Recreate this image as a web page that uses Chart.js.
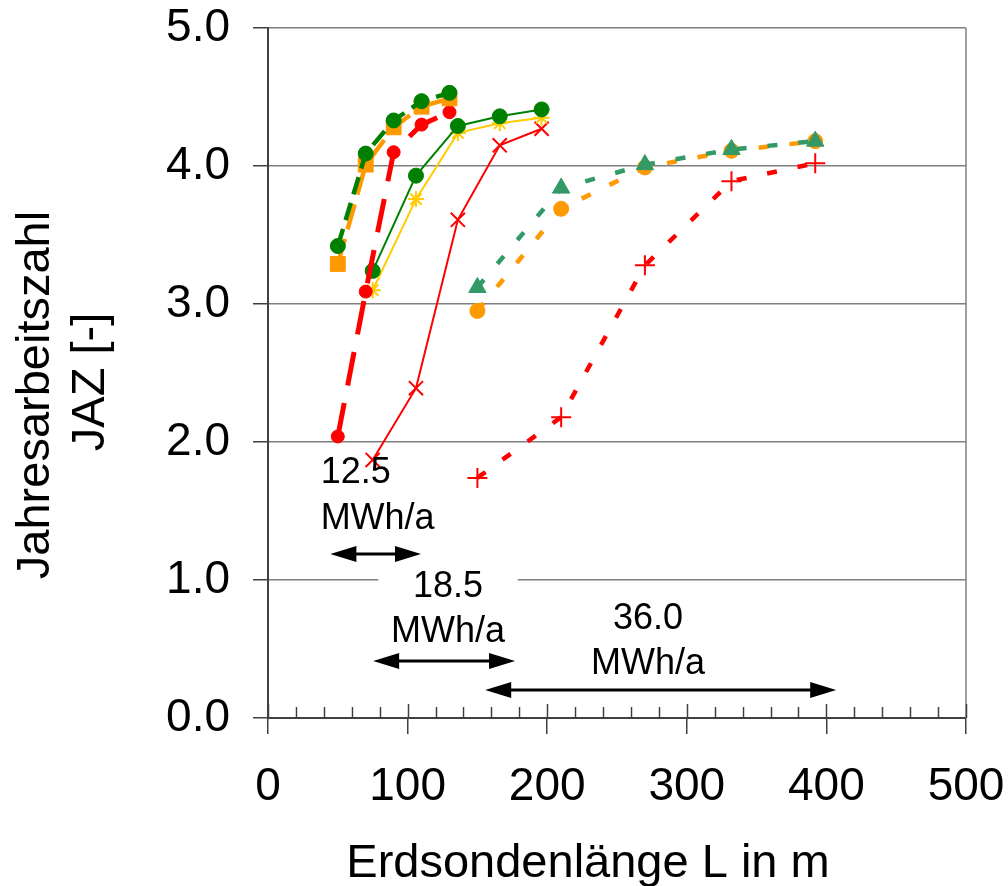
<!DOCTYPE html>
<html lang="de">
<head>
    <meta charset="UTF-8">
    <title>Jahresarbeitszahl | Erdsondenlänge</title>
    <script src="https://cdn.jsdelivr.net/npm/chart.js@4.4.1/dist/chart.umd.min.js"></script>
    <style>
        html, body { margin: 0; padding: 0; background: #fff; }
        #grafico { display: block; }
    </style>
</head>
<body>
    <canvas id="grafico" width="1008" height="886"></canvas>

<script>
    // Erdsondenlänge L in m (je Heizenergiebedarf)
    const laenge125 = [50, 70, 90, 110, 130];
    const laenge185 = [75, 106, 136, 166, 196];
    const laenge360 = [150, 210, 270, 332, 392];

    // Jahresarbeitszahl JAZ [-]
    const jazGruenGestrichelt = [3.42, 4.09, 4.33, 4.47, 4.53];
    const jazOrangeQuadrat = [3.29, 4.01, 4.28, 4.43, 4.49];
    const jazRotGestrichelt = [2.04, 3.09, 4.10, 4.30, 4.39];
    const jazGruen = [3.24, 3.93, 4.29, 4.36, 4.41];
    const jazGelb = [3.10, 3.76, 4.24, 4.31, 4.35];
    const jazRot = [1.87, 2.39, 3.61, 4.15, 4.27];
    const jazGruenDreieck = [3.12, 3.84, 4.01, 4.12, 4.18];
    const jazOrangeKreis = [2.95, 3.69, 3.99, 4.11, 4.18];
    const jazRotPlus = [1.74, 2.18, 3.28, 3.89, 4.02];

    // Achsen
    const xMax = 500;
    const yMax = 5;
    const xLabelSchritt = 100;
    const xTickSchritt = 20;

    // Beschriftungen (Energiebedarf) und Pfeile, in Achsenwerten
    const energieTexte = ['12.5', '18.5', '36.0'];
    const pfeilVon = [44.7, 75.3, 155.6];
    const pfeilBis = [109.6, 177, 407];
    const pfeilJaz = [1.19, 0.41, 0.20];

    const schrift = '"Liberation Sans", Arial, sans-serif';

    function punkte(xs, ys) {
        return xs.map(function (x, i) { return { x: x, y: ys[i] }; });
    }

    function pfeil(ctx, x1, x2, yy) {
        const k = 26, h = 8;
        ctx.lineWidth = 3;
        ctx.beginPath();
        ctx.moveTo(x1 + k - 2, yy);
        ctx.lineTo(x2 - k + 2, yy);
        ctx.stroke();
        ctx.beginPath();
        ctx.moveTo(x1, yy); ctx.lineTo(x1 + k, yy - h); ctx.lineTo(x1 + k, yy + h);
        ctx.closePath(); ctx.fill();
        ctx.beginPath();
        ctx.moveTo(x2, yy); ctx.lineTo(x2 - k, yy - h); ctx.lineTo(x2 - k, yy + h);
        ctx.closePath(); ctx.fill();
    }

    const extras = {
        id: 'extras',
        beforeDatasetsDraw(chart) {
            const ctx = chart.ctx;
            const a = chart.chartArea;
            const x = chart.scales.x;
            const y = chart.scales.y;
            ctx.save();

            // rechter Rahmen
            ctx.strokeStyle = '#808080';
            ctx.lineWidth = 1.5;
            ctx.beginPath();
            ctx.moveTo(a.right, a.top);
            ctx.lineTo(a.right, a.bottom);
            ctx.stroke();

            // Teilstriche nach innen
            ctx.strokeStyle = '#404040';
            for (let v = 0; v <= xMax; v += xTickSchritt) {
                const px = Math.round(x.getPixelForValue(v)) + 0.5;
                const len = v % xLabelSchritt === 0 ? 14 : 11;
                ctx.beginPath();
                ctx.moveTo(px, a.bottom);
                ctx.lineTo(px, a.bottom - len);
                ctx.stroke();
            }

            // Textfeld "18.5" unterbricht die Gitterlinie
            ctx.fillStyle = '#fff';
            ctx.fillRect(x.getPixelForValue(79), y.getPixelForValue(1) - 4, x.getPixelForValue(179) - x.getPixelForValue(79), 8);
            ctx.restore();
        },
        afterDraw(chart) {
            const ctx = chart.ctx;
            const x = chart.scales.x;
            const y = chart.scales.y;
            ctx.save();
            ctx.fillStyle = '#000';
            ctx.strokeStyle = '#000';

            for (let i = 0; i < pfeilVon.length; i++) {
                pfeil(ctx, x.getPixelForValue(pfeilVon[i]), x.getPixelForValue(pfeilBis[i]), Math.round(y.getPixelForValue(pfeilJaz[i])));
            }

            ctx.font = '36px ' + schrift;
            ctx.textBaseline = 'middle';
            // 12.5 MWh/a (linksbündig)
            ctx.textAlign = 'left';
            ctx.fillText(energieTexte[0], x.getPixelForValue(37.7), y.getPixelForValue(1.775));
            ctx.fillText('MWh/a', x.getPixelForValue(37.7), y.getPixelForValue(1.442));
            // 18.5 MWh/a
            ctx.textAlign = 'center';
            ctx.fillText(energieTexte[1], x.getPixelForValue(128.9), y.getPixelForValue(0.949));
            ctx.fillText('MWh/a', x.getPixelForValue(128.9), y.getPixelForValue(0.623));
            // 36.0 MWh/a
            ctx.fillText(energieTexte[2], x.getPixelForValue(272.2), y.getPixelForValue(0.717));
            ctx.fillText('MWh/a', x.getPixelForValue(272.2), y.getPixelForValue(0.391));

            // Achsentitel
            ctx.font = '47px ' + schrift;
            ctx.textAlign = 'center';
            ctx.textBaseline = 'alphabetic';
            ctx.fillText('Erdsondenlänge L in m', 588, 877);

            ctx.textBaseline = 'middle';
            ctx.save();
            ctx.translate(36, 395);
            ctx.rotate(-Math.PI / 2);
            ctx.fillText('Jahresarbeitszahl', 0, 0);
            ctx.restore();
            ctx.save();
            ctx.translate(91, 382);
            ctx.rotate(-Math.PI / 2);
            ctx.fillText('JAZ [-]', 0, 0);
            ctx.restore();

            ctx.restore();
        }
    };

    const dados = {
        datasets: [
            {
                label: '12.5 MWh/a (grün)',
                data: punkte(laenge125, jazGruenGestrichelt),
                borderColor: '#008000', backgroundColor: '#008000',
                borderWidth: 4.5, borderDash: [18, 9],
                pointStyle: 'circle', pointRadius: 7.5, pointBorderWidth: 1
            },
            {
                label: '12.5 MWh/a (orange)',
                data: punkte(laenge125, jazOrangeQuadrat),
                borderColor: '#FF9900', backgroundColor: '#FF9900',
                borderWidth: 4.5, borderDash: [26, 10],
                pointStyle: 'rect', pointRadius: 10.5, pointBorderWidth: 1
            },
            {
                label: '12.5 MWh/a (rot)',
                data: punkte(laenge125, jazRotGestrichelt),
                borderColor: '#FF0000', backgroundColor: '#FF0000',
                borderWidth: 5, borderDash: [34, 18],
                pointStyle: 'circle', pointRadius: 6.5, pointBorderWidth: 1
            },
            {
                label: '18.5 MWh/a (grün)',
                data: punkte(laenge185, jazGruen),
                borderColor: '#008000', backgroundColor: '#008000',
                borderWidth: 2,
                pointStyle: 'circle', pointRadius: 7.5, pointBorderWidth: 1
            },
            {
                label: '18.5 MWh/a (gelb)',
                data: punkte(laenge185, jazGelb),
                borderColor: '#FFCC00', backgroundColor: '#FFCC00',
                borderWidth: 2,
                pointStyle: 'star', pointRadius: 8, pointBorderWidth: 2
            },
            {
                label: '18.5 MWh/a (rot)',
                data: punkte(laenge185, jazRot),
                borderColor: '#FF0000', backgroundColor: '#FF0000',
                borderWidth: 2,
                pointStyle: 'crossRot', pointRadius: 10, pointBorderWidth: 2
            },
            {
                label: '36.0 MWh/a (grün)',
                data: punkte(laenge360, jazGruenDreieck),
                borderColor: '#339966', backgroundColor: '#339966',
                borderWidth: 4.5, borderDash: [10, 21],
                pointStyle: 'triangle', pointRadius: 10, pointBorderWidth: 1
            },
            {
                label: '36.0 MWh/a (orange)',
                data: punkte(laenge360, jazOrangeKreis),
                borderColor: '#FF9900', backgroundColor: '#FF9900',
                borderWidth: 4.5, borderDash: [10, 21],
                pointStyle: 'circle', pointRadius: 7.5, pointBorderWidth: 1
            },
            {
                label: '36.0 MWh/a (rot)',
                data: punkte(laenge360, jazRotPlus),
                borderColor: '#FF0000', backgroundColor: '#FF0000',
                borderWidth: 4.5, borderDash: [10, 21],
                pointStyle: 'cross', pointRadius: 10, pointBorderWidth: 2
            }
        ]
    };

    const config = {
        type: 'line',
        data: dados,
        options: {
            responsive: false,
            devicePixelRatio: 1,
            animation: false,
            layout: { padding: { top: 28, right: 42, left: 0, bottom: 0 } },
            elements: { line: { tension: 0, fill: false } },
            plugins: {
                legend: { display: false },
                tooltip: { enabled: false }
            },
            scales: {
                x: {
                    type: 'linear',
                    min: 0,
                    max: xMax,
                    afterFit: function (scale) {
                        scale.height = 168;
                        scale.paddingLeft = 0;
                        scale.paddingRight = 0;
                    },
                    ticks: {
                        stepSize: xTickSchritt,
                        autoSkip: false,
                        maxRotation: 0,
                        padding: 26,
                        color: '#000',
                        font: { family: schrift, size: 46 },
                        callback: function (v) { return v % xLabelSchritt === 0 ? String(v) : ''; }
                    },
                    grid: {
                        drawOnChartArea: false,
                        tickLength: 16,
                        lineWidth: 1.5,
                        tickColor: function (c) {
                            return c.tick && c.tick.value % xLabelSchritt === 0 ? '#404040' : 'rgba(0,0,0,0)';
                        }
                    },
                    border: { color: '#404040', width: 2 }
                },
                y: {
                    min: 0,
                    max: yMax,
                    afterFit: function (scale) {
                        scale.width = 268;
                        scale.paddingTop = 0;
                        scale.paddingBottom = 0;
                    },
                    ticks: {
                        stepSize: 1,
                        padding: 23,
                        color: '#000',
                        font: { family: schrift, size: 46 },
                        callback: function (v) { return v.toFixed(1); }
                    },
                    grid: {
                        color: '#808080',
                        lineWidth: 1.5,
                        tickLength: 15,
                        tickColor: '#404040'
                    },
                    border: { color: '#404040', width: 2 }
                }
            }
        },
        plugins: [extras]
    };

    let myChart = new Chart(document.getElementById('grafico'), config);
</script>
</body>
</html>
